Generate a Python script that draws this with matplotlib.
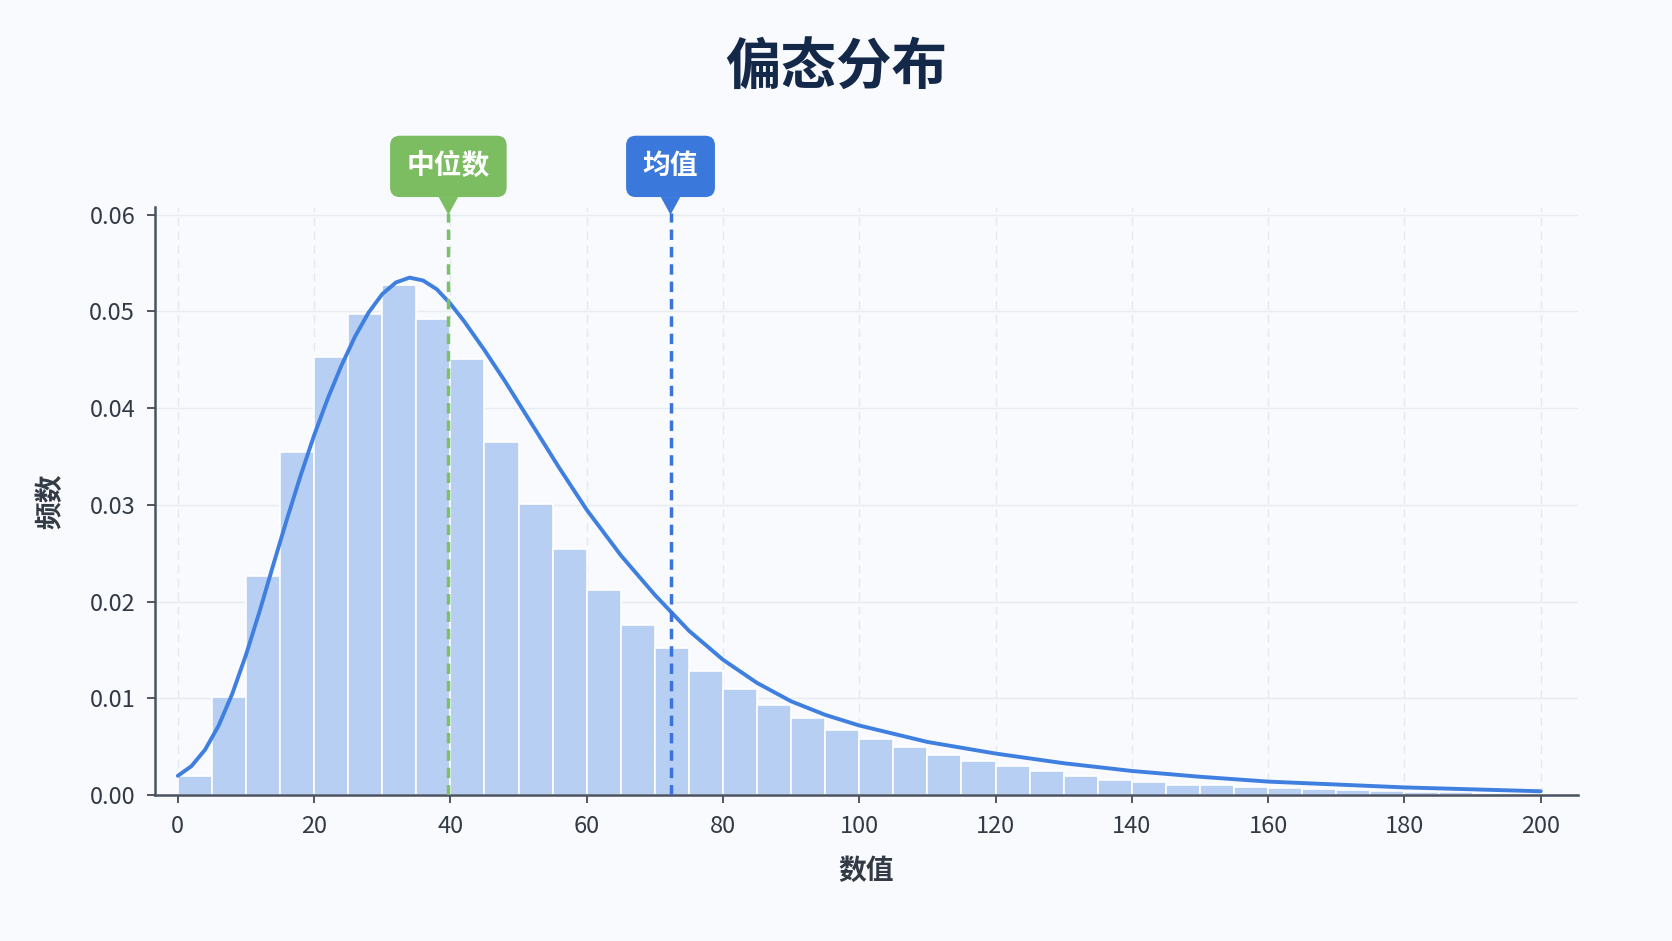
import matplotlib
matplotlib.use("Agg")
import matplotlib.pyplot as plt
import numpy as np

plt.rcParams['font.family'] = ['Noto Sans CJK SC', 'DejaVu Sans']

bin_edges = list(range(0, 205, 5))
bar_heights = [0.0020, 0.0101, 0.0227, 0.0355, 0.0453, 0.0497, 0.0527, 0.0492, 0.0451, 0.0365,
               0.0301, 0.0254, 0.0212, 0.0176, 0.0152, 0.0128, 0.0110, 0.0093, 0.0080, 0.0067,
               0.0058, 0.0050, 0.0042, 0.0035, 0.0030, 0.0025, 0.0020, 0.0016, 0.0014, 0.0011,
               0.0010, 0.0008, 0.0007, 0.0006, 0.0005, 0.0004, 0.0003, 0.0003, 0.0002, 0.0002]
curve_x = [0, 2, 4, 6, 8, 10, 12, 14, 16, 18, 20, 22, 24, 26, 28, 30, 32, 34, 36, 38, 40, 42, 45,
           48, 52, 56, 60, 65, 70, 75, 80, 85, 90, 95, 100, 110, 120, 130, 140, 150, 160, 170,
           180, 190, 200]
curve_y = [0.0020, 0.0030, 0.0047, 0.0072, 0.0105, 0.0145, 0.0190, 0.0238, 0.0285, 0.0330, 0.0372,
           0.0410, 0.0444, 0.0474, 0.0499, 0.0518, 0.0530, 0.0535, 0.0532, 0.0523, 0.0508, 0.0490,
           0.0460, 0.0428, 0.0383, 0.0338, 0.0295, 0.0248, 0.0207, 0.0170, 0.0140, 0.0116, 0.0097,
           0.0083, 0.0072, 0.0055, 0.0043, 0.0033, 0.0025, 0.0019, 0.0014, 0.0011, 0.0008,
           0.0006, 0.0004]
median_val = 39.7
mean_val = 72.3
xticks = [0, 20, 40, 60, 80, 100, 120, 140, 160, 180, 200]
yticks = [0.00, 0.01, 0.02, 0.03, 0.04, 0.05, 0.06]

bg = '#f8fafd'
fig = plt.figure(figsize=(16.72, 9.41), dpi=100, facecolor=bg)
ax = fig.add_axes([0.0925, 0.155, 0.851, 0.625], facecolor=bg)

ax.bar(bin_edges[:-1], bar_heights, width=5, align='edge', color='#b7cff3',
       edgecolor='white', linewidth=1.2, zorder=2)
ax.plot(curve_x, curve_y, color='#3f7fe0', lw=2.8, zorder=4, solid_capstyle='round',
        solid_joinstyle='round')

ax.set_xlim(-3.4, 205.4)
ax.set_ylim(0, 0.0608)
ax.set_xticks(xticks)
ax.set_yticks(yticks)
ax.set_yticklabels([f'{v:.2f}' for v in yticks])
ax.grid(True, color='#e4e8ef', lw=1, linestyle=(0, (6, 4)), zorder=0)
ax.grid(True, axis='y', color='#e8ebf0', lw=1, linestyle='-', zorder=0)
for s in ['top', 'right']:
    ax.spines[s].set_visible(False)
for s in ['left', 'bottom']:
    ax.spines[s].set_color('#4a5160')
    ax.spines[s].set_linewidth(1.8)
ax.tick_params(labelsize=17, colors='#333a45', length=6, width=1.2, pad=8)
ax.set_xlabel('数值', fontsize=20, fontweight='bold', color='#333a45', labelpad=14)
ax.set_ylabel('频数', fontsize=20, fontweight='bold', color='#333a45', labelpad=18)

ax.axvline(median_val, ymax=0.99, color='#7cc06a', lw=2.5, ls=(0, (3, 2)), zorder=5)
ax.axvline(mean_val, ymax=0.99, color='#3a73dc', lw=2.5, ls=(0, (3, 2)), zorder=5)

for x, txt, col in [(median_val, '中位数', '#7cbd62'), (mean_val, '均值', '#3a78dc')]:
    ax.annotate(txt, xy=(x, 0.0600), xytext=(x, 0.0650), textcoords='data',
                ha='center', va='center', fontsize=20, fontweight='bold', color='white',
                annotation_clip=False,
                bbox=dict(boxstyle='round,pad=0.6,rounding_size=0.35', fc=col, ec='none'),
                arrowprops=dict(arrowstyle='wedge,tail_width=0.7', fc=col, ec='none', shrinkA=0, shrinkB=0))

fig.text(0.5, 0.927, '偏态分布', ha='center', va='center', fontsize=40, fontweight='bold', color='#14294a')
fig.savefig('out.png', dpi=100, facecolor=bg)
